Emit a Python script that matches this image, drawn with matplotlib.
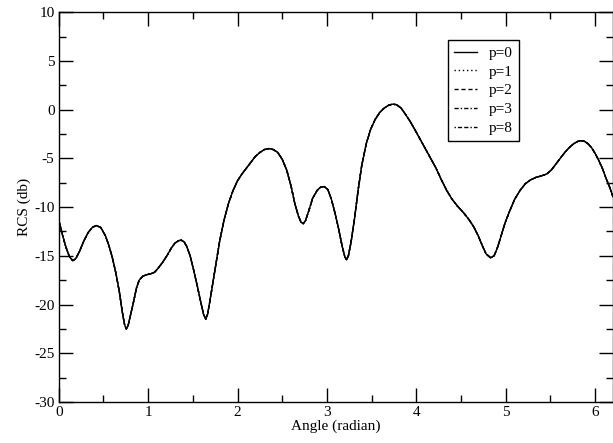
import matplotlib
matplotlib.use("Agg")
import matplotlib.pyplot as plt
from matplotlib.ticker import MultipleLocator

# RCS vs angle (all orders nearly coincide)
angle = [0.00, 0.04, 0.08, 0.12, 0.157, 0.19, 0.23, 0.28, 0.33, 0.38, 0.425,
         0.47, 0.52, 0.56, 0.60, 0.64, 0.68, 0.71, 0.735, 0.755, 0.775, 0.80,
         0.835, 0.87, 0.90, 0.94, 0.98, 1.03, 1.07, 1.11, 1.16, 1.21, 1.26,
         1.30, 1.34, 1.37, 1.40, 1.43, 1.47, 1.51, 1.55, 1.59, 1.62, 1.645,
         1.665, 1.69, 1.72, 1.76, 1.80, 1.85, 1.90, 1.95, 2.00, 2.05, 2.10,
         2.15, 2.20, 2.25, 2.30, 2.35, 2.40, 2.45, 2.50, 2.55, 2.60, 2.64,
         2.68, 2.71, 2.735, 2.76, 2.80, 2.84, 2.89, 2.93, 2.97, 3.01, 3.05,
         3.09, 3.13, 3.17, 3.20, 3.22, 3.24, 3.27, 3.31, 3.35, 3.39, 3.44,
         3.49, 3.54, 3.59, 3.64, 3.69, 3.735, 3.78, 3.83, 3.88, 3.93, 3.98,
         4.04, 4.10, 4.16, 4.22, 4.28, 4.34, 4.40, 4.46, 4.53, 4.59, 4.64,
         4.69, 4.74, 4.78, 4.83, 4.87, 4.91, 4.95, 4.99, 5.04, 5.10, 5.16,
         5.22, 5.28, 5.34, 5.40, 5.46, 5.51, 5.56, 5.61, 5.66, 5.71, 5.76,
         5.81, 5.84, 5.88, 5.92, 5.96, 6.00, 6.04, 6.08, 6.12, 6.16, 6.20]
rcs_db = [-11.3, -12.8, -14.1, -15.1, -15.5, -15.3, -14.6, -13.5, -12.6, -12.05, -11.9,
          -12.1, -12.9, -13.9, -15.2, -16.8, -18.8, -20.7, -22.0, -22.5, -22.2, -21.2,
          -19.8, -18.3, -17.5, -17.1, -16.95, -16.85, -16.7, -16.3, -15.7, -15.0, -14.2,
          -13.7, -13.45, -13.4, -13.55, -14.0, -15.0, -16.5, -18.1, -19.8, -21.0, -21.5,
          -21.0, -19.7, -18.0, -15.7, -13.5, -11.3, -9.6, -8.3, -7.3, -6.6, -6.0,
          -5.4, -4.8, -4.4, -4.1, -4.0, -4.1, -4.4, -5.1, -6.2, -7.9, -9.6,
          -10.9, -11.55, -11.7, -11.4, -10.3, -9.1, -8.3, -7.95, -7.9, -8.2, -9.2,
          -10.6, -12.2, -14.0, -15.1, -15.4, -15.0, -13.6, -11.1, -8.2, -5.7, -3.5,
          -2.0, -1.0, -0.3, 0.15, 0.45, 0.56, 0.5, 0.15, -0.5, -1.2, -2.0,
          -3.0, -4.0, -5.0, -6.0, -7.2, -8.3, -9.2, -9.9, -10.6, -11.3, -12.0,
          -12.9, -14.0, -14.8, -15.2, -15.0, -14.1, -12.9, -11.7, -10.5, -9.2, -8.3,
          -7.6, -7.2, -6.95, -6.8, -6.6, -6.2, -5.6, -5.0, -4.4, -3.9, -3.5,
          -3.25, -3.2, -3.25, -3.5, -3.9, -4.5, -5.2, -6.0, -7.0, -7.9, -8.95]

orders = ["p=0", "p=1", "p=2", "p=3", "p=8"]
styles = ["-", (0, (1, 2)), (0, (3, 2)), (0, (3, 1.5, 1, 1.5)), (0, (1, 1.5, 3, 1.5, 3, 1.5))]

plt.rcParams["font.family"] = ["Liberation Serif", "DejaVu Serif"]
plt.rcParams["font.size"] = 11
plt.rcParams["axes.unicode_minus"] = False

fig = plt.figure(figsize=(6.13, 4.43), dpi=100)
ax = fig.add_axes([0.0958, 0.0926, 0.9042, 0.880])

for label, ls in zip(orders, styles):
    ax.plot(angle, rcs_db, color="black", linestyle=ls, linewidth=1.0, label=label,
            solid_joinstyle="round", dash_joinstyle="round")

ax.set_xlim(0, 6.2)
ax.set_ylim(-30, 10)
ax.xaxis.set_major_locator(MultipleLocator(1))
ax.xaxis.set_minor_locator(MultipleLocator(0.5))
ax.yaxis.set_major_locator(MultipleLocator(5))
ax.yaxis.set_minor_locator(MultipleLocator(2.5))
ax.tick_params(which="both", direction="in", top=True, right=True, width=1.0,
               labelsize=11)
ax.tick_params(which="major", length=10, pad=3)
ax.tick_params(which="minor", length=5)
for sp in ax.spines.values():
    sp.set_linewidth(1.0)

ax.set_xlabel("Angle (radian)", labelpad=0)
ax.set_ylabel("RCS (db)", labelpad=2)

leg = ax.legend(loc="upper left", bbox_to_anchor=(0.702, 0.928), borderaxespad=0,
                fancybox=False, framealpha=1, edgecolor="black", handlelength=1.5,
                labelspacing=0.33, borderpad=0.4, handletextpad=0.8, fontsize=11)
leg.get_frame().set_linewidth(1.0)

fig.savefig("out.png", dpi=100)
